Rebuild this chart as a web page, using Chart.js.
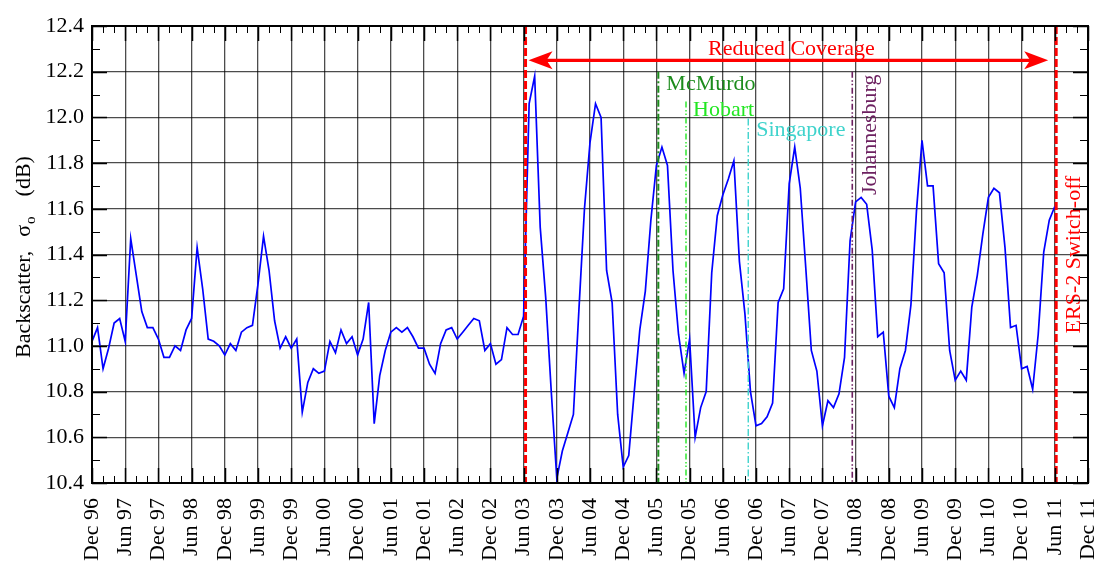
<!DOCTYPE html>
<html>
<head>
<meta charset="utf-8">
<script src="https://cdn.jsdelivr.net/npm/chart.js@4.4.1/dist/chart.umd.min.js"></script>
<style>
  html, body { margin: 0; padding: 0; background: #fff; }
  #wrap { width: 1095px; height: 561px; }
</style>
</head>
<body>
<div id="wrap"><canvas id="c" width="1095" height="561"></canvas></div>
<script>
// Tick labels every six months, Dec 1996 .. Dec 2011
const tickLabels = [
  'Dec 96', 'Jun 97', 'Dec 97', 'Jun 98', 'Dec 98', 'Jun 99', 'Dec 99', 'Jun 00',
  'Dec 00', 'Jun 01', 'Dec 01', 'Jun 02', 'Dec 02', 'Jun 03', 'Dec 03', 'Jun 04',
  'Dec 04', 'Jun 05', 'Dec 05', 'Jun 06', 'Dec 06', 'Jun 07', 'Dec 07', 'Jun 08',
  'Dec 08', 'Jun 09', 'Dec 09', 'Jun 10', 'Dec 10', 'Jun 11', 'Dec 11'
];

// Monthly mean backscatter (dB), starting Dec 1996
const backscatter = [
  11.02, 11.08, 10.90, 10.99, 11.10, 11.12, 11.02, 11.47, 11.31, 11.15, 11.08, 11.08,
  11.03, 10.95, 10.95, 11.00, 10.98, 11.07, 11.12, 11.43, 11.25, 11.03, 11.02, 11.00,
  10.96, 11.01, 10.98, 11.06, 11.08, 11.09, 11.27, 11.48, 11.33, 11.11, 10.99, 11.04,
  10.99, 11.03, 10.71, 10.84, 10.90, 10.88, 10.89, 11.02, 10.97, 11.07, 11.01, 11.04,
  10.96, 11.03, 11.19, 10.66, 10.87, 10.98, 11.06, 11.08, 11.06, 11.08, 11.04, 10.99,
  10.99, 10.92, 10.88, 11.01, 11.07, 11.08, 11.03, 11.06, 11.09, 11.12, 11.11, 10.98,
  11.01, 10.92, 10.94, 11.08, 11.05, 11.05, 11.13, 12.06, 12.18, 11.52, 11.21, 10.80,
  10.42, 10.54, 10.62, 10.70, 11.16, 11.60, 11.89, 12.06, 12.00, 11.33, 11.19, 10.70,
  10.47, 10.52, 10.80, 11.07, 11.24, 11.55, 11.79, 11.87, 11.79, 11.33, 11.05, 10.88,
  11.03, 10.60, 10.73, 10.80, 11.32, 11.57, 11.66, 11.73, 11.81, 11.37, 11.14, 10.80,
  10.65, 10.66, 10.69, 10.75, 11.19, 11.25, 11.71, 11.87, 11.69, 11.34, 10.98, 10.89,
  10.65, 10.76, 10.73, 10.79, 10.95, 11.46, 11.63, 11.65, 11.62, 11.42, 11.04, 11.06,
  10.78, 10.73, 10.90, 10.98, 11.18, 11.59, 11.90, 11.70, 11.70, 11.36, 11.32, 10.98,
  10.85, 10.89, 10.85, 11.17, 11.31, 11.49, 11.65, 11.69, 11.67, 11.43, 11.08, 11.09,
  10.90, 10.91, 10.81, 11.05, 11.41, 11.55, 11.61
];

// Events, as months after Dec 1996
const stationNames  = ['McMurdo', 'Hobart', 'Singapore', 'Johannesburg'];
const stationMonths = [102.35, 107.35, 118.6, 137.4];
const coverageStart = 78.35;   // start of reduced coverage
const switchOff     = 174.25;  // ERS-2 switch-off

const FONT = '"Liberation Serif", "Times New Roman", serif';
const GRID = 'rgba(0,0,0,0.7)';

const points = backscatter.map((v, i) => ({ x: i, y: v }));

const annotations = {
  id: 'annotations',
  afterDatasetsDraw(chart) {
    const { ctx, chartArea: a, scales: { x, y } } = chart;
    ctx.save();

    // station lines and labels
    const st = [
      { color: '#1c8c1c', dash: [7, 2.5, 2, 2.5], top: 12.2, lw: 2 },
      { color: '#22e622', dash: [6, 2.5, 1.5, 2, 1.5, 2.5], top: 12.07, lw: 1.4 },
      { color: '#3fd3cc', dash: [7, 2.5, 1.5, 2.5], top: 11.995, lw: 1.4 },
      { color: '#6c2060', dash: [6, 2.5, 1.5, 2, 1.5, 2.5], top: 12.2, lw: 1.6 }
    ];
    stationMonths.forEach((m, i) => {
      const px = x.getPixelForValue(m);
      ctx.beginPath();
      ctx.setLineDash(st[i].dash);
      ctx.strokeStyle = st[i].color;
      ctx.lineWidth = st[i].lw;
      ctx.moveTo(px, y.getPixelForValue(st[i].top));
      ctx.lineTo(px, a.bottom);
      ctx.stroke();
    });
    ctx.setLineDash([]);
    ctx.font = '22px ' + FONT;
    ctx.textBaseline = 'alphabetic';
    ctx.textAlign = 'left';
    const lx = stationMonths.map(m => x.getPixelForValue(m));
    ctx.fillStyle = st[0].color; ctx.fillText(stationNames[0], lx[0] + 8, y.getPixelForValue(12.12));
    ctx.fillStyle = st[1].color; ctx.fillText(stationNames[1], lx[1] + 7, y.getPixelForValue(12.005));
    ctx.fillStyle = st[2].color; ctx.fillText(stationNames[2], lx[2] + 8, y.getPixelForValue(11.92));
    ctx.save();
    ctx.translate(lx[3] + 24, y.getPixelForValue(11.66));
    ctx.rotate(-Math.PI / 2);
    ctx.fillStyle = st[3].color;
    ctx.fillText(stationNames[3], 0, 0);
    ctx.restore();

    // red dashed limits
    ctx.strokeStyle = '#ff0000';
    ctx.lineWidth = 3;
    ctx.setLineDash([8, 3]);
    [coverageStart, switchOff].forEach(m => {
      const px = x.getPixelForValue(m);
      ctx.beginPath();
      ctx.moveTo(px, a.top);
      ctx.lineTo(px, a.bottom);
      ctx.stroke();
    });
    ctx.setLineDash([]);

    // double-headed arrow
    const ay = y.getPixelForValue(12.25);
    const x0 = x.getPixelForValue(coverageStart) + 3;
    const x1 = x.getPixelForValue(switchOff) - 8;
    ctx.beginPath();
    ctx.moveTo(x0 + 15, ay);
    ctx.lineTo(x1 - 15, ay);
    ctx.lineWidth = 3.2;
    ctx.stroke();
    ctx.fillStyle = '#ff0000';
    [[x0, 1], [x1, -1]].forEach(([tx, d]) => {
      ctx.beginPath();
      ctx.moveTo(tx, ay);
      ctx.lineTo(tx + d * 24, ay - 9);
      ctx.lineTo(tx + d * 18, ay);
      ctx.lineTo(tx + d * 24, ay + 9);
      ctx.closePath();
      ctx.fill();
    });
    ctx.textAlign = 'center';
    ctx.fillText('Reduced Coverage', (x0 + x1) / 2 + 3, y.getPixelForValue(12.272));

    ctx.save();
    ctx.translate(x.getPixelForValue(switchOff) + 24, y.getPixelForValue(11.4));
    ctx.rotate(-Math.PI / 2);
    ctx.textAlign = 'center';
    ctx.fillText('ERS-2 Switch-off', 0, 0);
    ctx.restore();

    ctx.restore();
  },
  afterDraw(chart) {
    const { ctx, chartArea: a, scales: { x, y } } = chart;
    ctx.save();
    ctx.strokeStyle = '#000';

    // ticks along the frame, pointing inward
    for (let m = 0; m <= 180; m += 2) {
      const px = Math.round(x.getPixelForValue(m)) + 0.5;
      const major = m % 6 === 0;
      const len = major ? 15 : 7;
      ctx.lineWidth = major ? 1.5 : 1;
      ctx.beginPath();
      ctx.moveTo(px, a.top); ctx.lineTo(px, a.top + len);
      ctx.moveTo(px, a.bottom); ctx.lineTo(px, a.bottom - len);
      ctx.stroke();
    }
    for (let k = 0; k <= 20; k++) {
      const py = Math.round(y.getPixelForValue(10.4 + k * 0.1)) + 0.5;
      const major = k % 2 === 0;
      const len = major ? 15 : 8;
      ctx.lineWidth = major ? 1.5 : 1;
      ctx.beginPath();
      ctx.moveTo(a.left, py); ctx.lineTo(a.left + len, py);
      ctx.moveTo(a.right, py); ctx.lineTo(a.right - len, py);
      ctx.stroke();
    }

    // frame
    ctx.lineWidth = 2;
    ctx.strokeRect(a.left, a.top, a.right - a.left, a.bottom - a.top);

    // y axis title with subscript, laid out from the bottom upward
    ctx.fillStyle = '#000';
    ctx.textBaseline = 'alphabetic';
    ctx.textAlign = 'left';
    const big = '22px ' + FONT, small = '15px ' + FONT;
    ctx.translate(30, 358);
    ctx.rotate(-Math.PI / 2);
    let cx = 0;
    ctx.font = big;
    ctx.fillText('Backscatter,', cx, 0);
    cx += ctx.measureText('Backscatter,').width + 14;
    ctx.fillText('\u03c3', cx, 0);
    cx += ctx.measureText('\u03c3').width + 1;
    ctx.font = small;
    ctx.fillText('o', cx, 5);
    cx += ctx.measureText('o').width + 20;
    ctx.font = big;
    ctx.fillText('(dB)', cx, 0);
    ctx.restore();
  }
};

new Chart(document.getElementById('c'), {
  type: 'line',
  data: {
    datasets: [{
      data: points,
      borderColor: '#0000ff',
      borderWidth: 1.7,
      pointRadius: 0,
      tension: 0,
      fill: false
    }]
  },
  options: {
    responsive: false,
    animation: false,
    layout: { padding: { top: 26, right: 7, left: 0, bottom: 0 } },
    plugins: { legend: { display: false }, tooltip: { enabled: false } },
    scales: {
      x: {
        type: 'linear',
        min: 0,
        max: 180,
        afterFit(s) { s.height = 78; s.paddingLeft = 0; s.paddingRight = 0; },
        afterBuildTicks(s) { s.ticks = tickLabels.map((_, i) => ({ value: i * 6 })); },
        ticks: {
          autoSkip: false,
          maxRotation: 90,
          minRotation: 90,
          padding: 15,
          color: '#000',
          font: { family: FONT, size: 22 },
          callback: v => tickLabels[Math.round(v / 6)]
        },
        grid: { color: GRID, lineWidth: 1.3, drawTicks: false },
        border: { display: false }
      },
      y: {
        min: 10.4,
        max: 12.4,
        afterFit(s) { s.width = 92; },
        ticks: {
          stepSize: 0.2,
          padding: 8,
          color: '#000',
          font: { family: FONT, size: 22 },
          callback: v => v.toFixed(1)
        },
        grid: { color: GRID, lineWidth: 1.3, drawTicks: false },
        border: { display: false }
      }
    }
  },
  plugins: [annotations]
});
</script>
</body>
</html>
